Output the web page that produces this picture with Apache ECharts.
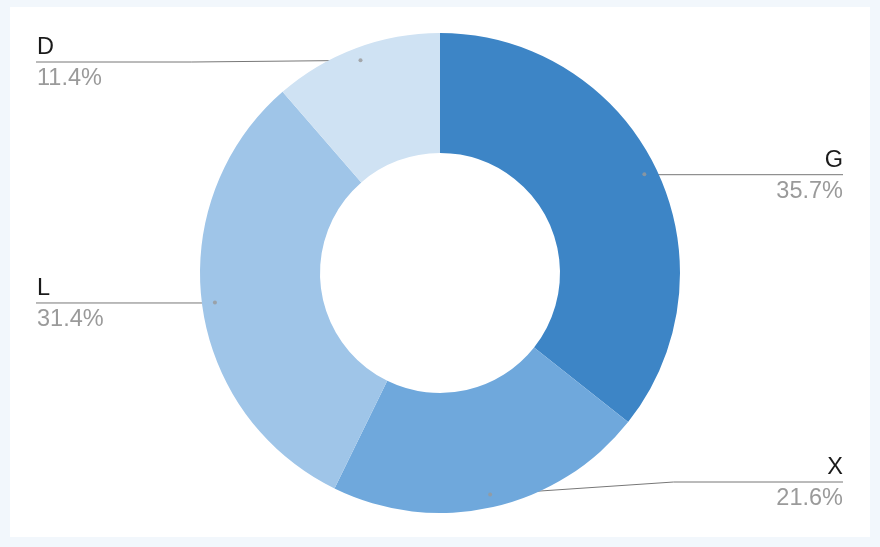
<!DOCTYPE html>
<html><head><meta charset="utf-8">
<script src="https://cdn.jsdelivr.net/npm/echarts@6/dist/echarts.min.js"></script>
<style>
html,body{margin:0;padding:0;background:#f2f7fc;width:880px;height:547px;overflow:hidden}
#main{position:absolute;left:10px;top:7px;width:860px;height:530px;background:#ffffff}
</style>
</head><body><div id="main"></div>
<script>
const categories = ['G', 'X', 'L', 'D'];
const values = [35.7, 21.6, 31.4, 11.4];
const colors = ['#3d85c6', '#6fa8dc', '#9fc5e8', '#cfe2f3'];

const chart = echarts.init(document.getElementById('main'), null, {renderer: 'canvas'});
const W = 860, CX = 430, CY = 266, R_IN = 120, R_OUT = 240, R_DOT = 227;
const total = values.reduce((a, b) => a + b, 0);
let cum = 0;
const mids = values.map(v => { const m = cum + v / 2; cum += v; return m; });
const FONT = "'Liberation Sans', Arial, sans-serif";

chart.setOption({
  animation: false,
  polar: {center: [CX, CY], radius: R_OUT},
  angleAxis: {type: 'value', min: 0, max: total, startAngle: 90, clockwise: true, show: false},
  radiusAxis: {type: 'value', min: 0, max: R_OUT, show: false},
  series: [
    {
      type: 'pie',
      left: 0,
      right: 0,
      top: CY - R_OUT,
      bottom: 530 - (CY + R_OUT),
      center: ['50%', '50%'],
      radius: [R_IN, R_OUT],
      startAngle: 90,
      clockwise: true,
      silent: true,
      data: categories.map((c, i) => ({name: c, value: values[i], itemStyle: {color: colors[i]}})),
      label: {
        alignTo: 'edge',
        edgeDistance: 27,
        minMargin: 5,
        padding: [3, 0, 0, 0],
        fontFamily: FONT,
        formatter: p => '{n|' + p.name + '}\n{p|' + p.value.toFixed(1) + '%}',
        rich: {
          n: {fontSize: 23.5, color: '#1a1a1a', lineHeight: 31, fontFamily: FONT},
          p: {fontSize: 23.5, color: '#9a9a9a', lineHeight: 31, fontFamily: FONT}
        }
      },
      labelLine: {show: true, length: -13, length2: 0, lineStyle: {color: '#777777', width: 1}},
      labelLayout: function (params) {
        const pts = params.labelLinePoints;
        if (!pts) return;
        const rect = params.labelRect;
        const isLeft = rect.x < W / 2;
        const m = mids[params.dataIndex];
        const ang = (90 - m / total * 360) * Math.PI / 180;
        const p0 = [CX + R_DOT * Math.cos(ang), CY - R_DOT * Math.sin(ang)];
        const y = rect.y + rect.height / 2 - 1;
        const xe = isLeft ? rect.x - 1 : rect.x + rect.width;
        const flat = Math.abs(y - p0[1]) < 1.2;
        const pStart = flat ? [p0[0], y] : p0;
        const p1 = flat ? [p0[0], y] : [p0[0] + (xe - p0[0]) * 0.52, y];
        return {labelLinePoints: [pStart, p1, [xe, y]]};
      }
    },
    {
      type: 'scatter',
      coordinateSystem: 'polar',
      data: mids.map(m => [R_DOT, m]),
      symbol: 'circle',
      symbolSize: 4,
      itemStyle: {color: '#999999'},
      z: 5,
      silent: true
    }
  ]
});
</script>
</body></html>
